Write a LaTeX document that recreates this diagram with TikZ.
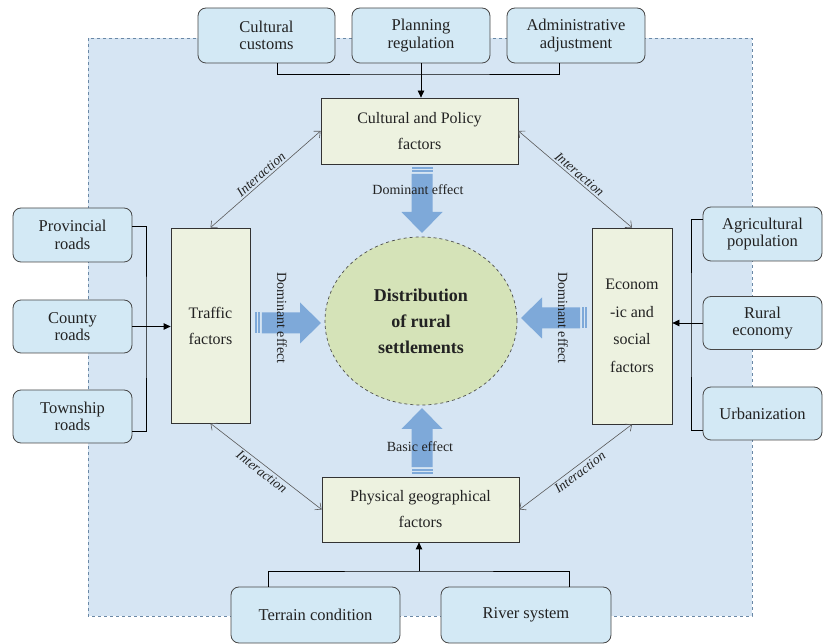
\documentclass[tikz,border=0pt]{standalone}
\usepackage{fontspec}
\setmainfont{Liberation Serif}
\usetikzlibrary{arrows.meta,shapes.geometric}

\definecolor{panelblue}{HTML}{D6E5F3}
\definecolor{paneledge}{HTML}{6A88A6}
\definecolor{srcblue}{HTML}{D3E9F5}
\definecolor{factorgreen}{HTML}{EDF2E0}
\definecolor{coregreen}{HTML}{D5E3B8}
\definecolor{effblue}{HTML}{7EA9D9}
\definecolor{inkgray}{HTML}{222222}

\tikzset{
  srcbox/.style={draw=black!72, line width=0.8pt, rounded corners=8pt, fill=srcblue,
    align=center, inner sep=0pt, text=inkgray, font=\fontsize{16.5}{17.5}\selectfont},
  factorbox/.style={draw=black!80, line width=0.8pt, fill=factorgreen,
    align=center, inner sep=0pt, text=inkgray, font=\fontsize{16}{26}\selectfont},
  link/.style={draw=black, line width=0.8pt},
  feed/.style={link, -{Triangle[length=7pt,width=6.5pt]}},
  interact/.style={draw=black!65, line width=0.6pt, {Straight Barb[length=5pt,width=9pt]}-{Straight Barb[length=5pt,width=9pt]}},
  interlabel/.style={font=\itshape\fontsize{13.5}{13.5}\selectfont, text=inkgray, sloped, inner sep=2pt},
  efflabel/.style={font=\fontsize{14}{14}\selectfont, text=inkgray, inner sep=0pt},
  flowarrow/.pic={
    \fill[effblue] (0,-10.5) rectangle (1.8,10.5);
    \fill[effblue] (3.4,-10.5) rectangle (5.2,10.5);
    \fill[effblue] (6.8,-10.5) -- (45,-10.5) -- (45,-20.5) -- (66,0)
      -- (45,20.5) -- (45,10.5) -- (6.8,10.5) -- cycle;
  }
}

\begin{document}
\begin{tikzpicture}[x=1pt,y=-1pt]
\useasboundingbox (0,0) rectangle (823,644);

% shaded panel behind the factor network
\draw[paneledge, dashed, line width=0.8pt, fill=panelblue] (88,38) rectangle (752,616);

% broad effect arrows pointing at the settlement core
\pic[rotate=-90] at (422,167) {flowarrow};
\pic at (255,323) {flowarrow};
\pic[rotate=180] at (587,318) {flowarrow};
\pic[rotate=90] at (422,474) {flowarrow};

% source boxes
\node[srcbox, minimum width=137, minimum height=55] (cc) at (266.5,35.5) {Cultural\\customs};
\node[srcbox, minimum width=138, minimum height=55] (pr) at (421,35.5) {Planning\\regulation};
\node[srcbox, minimum width=138, minimum height=55] (ad) at (576,35.5) {Administrative\\adjustment};

\node[srcbox, minimum width=119, minimum height=54] (pv) at (72.5,235) {Provincial\\roads};
\node[srcbox, minimum width=119, minimum height=53] (co) at (72.5,326.5) {County\\roads};
\node[srcbox, minimum width=119, minimum height=53] (tw) at (72.5,416.5) {Township\\roads};

\node[srcbox, minimum width=119, minimum height=54] (ag) at (762.5,234) {Agricultural\\population};
\node[srcbox, minimum width=119, minimum height=53] (re) at (762.5,323) {Rural\\economy};
\node[srcbox, minimum width=119, minimum height=53] (ur) at (762.5,413.5) {Urbanization};

\node[srcbox, minimum width=169, minimum height=56] (tc) at (315.5,615) {Terrain condition};
\node[srcbox, minimum width=170, minimum height=56] (rs) at (526,615) {River system};

% factor boxes
\node[factorbox, minimum width=197, minimum height=66] (cp) at (419.5,131) {Cultural and Policy\\factors};
\node[factorbox, minimum width=79, minimum height=195] (tf) at (210.5,325.5) {Traffic\\factors};
\node[factorbox, minimum width=80, minimum height=196, font=\fontsize{16}{27.5}\selectfont] (es) at (632,326) {Econom\\-ic and\\social\\factors};
\node[factorbox, minimum width=197, minimum height=65] (pg) at (420.5,509.5) {Physical geographical\\factors};

% settlement core
\node[ellipse, draw=black!70, dashed, line width=0.7pt, fill=coregreen,
  minimum width=192, minimum height=168, align=center, text=inkgray,
  font=\bfseries\fontsize{18}{26}\selectfont] (core) at (421,321)
  {Distribution\\of rural\\settlements};

% effect labels
\node[efflabel] (lbtop) at (418,190) {Dominant effect};
\node[efflabel, rotate=-90] (lbleft) at (282,318) {Dominant effect};
\node[efflabel, rotate=-90] (lbright) at (563,318) {Dominant effect};
\node[efflabel] (lbbot) at (420,447) {Basic effect};

% feeds into the factor boxes
\coordinate (topbar) at (421,74);
\draw[link] ([xshift=10.5pt]cc.south) |- (topbar) -| ([xshift=-17pt]ad.south);
\draw[feed] (pr.south) -- (pr.south |- cp.north);

\coordinate (leftbar) at (146,326);
\draw[link] ([yshift=9pt]pv.east) -| (leftbar) |- ([yshift=-14.5pt]tw.east);
\draw[feed] (co.east) -- (co.east -| tf.west);

\coordinate (rightbar) at (691,325);
\draw[link] ([yshift=15pt]ag.west) -| (rightbar) |- ([yshift=-16.5pt]ur.west);
\draw[feed] (re.west) -- (re.west -| es.east);

\coordinate (botbar) at (419,571);
\draw[link] ([xshift=-47.5pt]tc.north) |- (botbar) -| ([xshift=43pt]rs.north);
\draw[feed] (botbar) -- (botbar |- pg.south);

% mutual interactions between factors
\draw[interact] (tf.north) -- node[interlabel, above] {Interaction} (cp.west);
\draw[interact] (cp.east) -- node[interlabel, above] {Interaction} (es.north);
\draw[interact] (tf.south) -- node[interlabel, below] {Interaction} (pg.west);
\draw[interact] (pg.east) -- node[interlabel, below] {Interaction} (es.south);
\end{tikzpicture}
\end{document}
